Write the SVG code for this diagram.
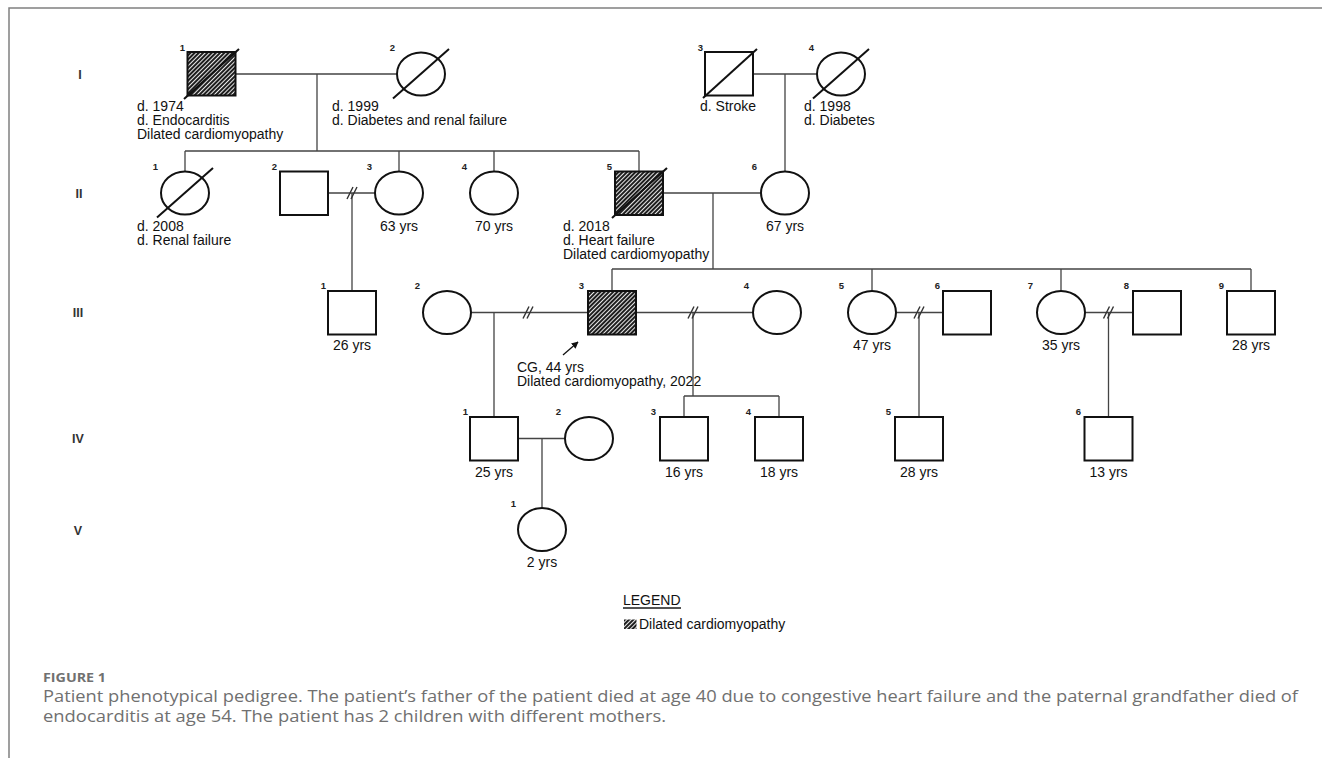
<svg xmlns="http://www.w3.org/2000/svg" width="1331" height="758" viewBox="0 0 1331 758">
<style>
.sym{fill:#fff;stroke:#111;stroke-width:2}
.aff{fill:url(#hatch);stroke:#111;stroke-width:2}
.dec{stroke:#111;stroke-width:2;fill:none}
.ln{stroke:#444;stroke-width:1.3;fill:none}
.t{font-family:"Liberation Sans",Arial,sans-serif;font-size:14px;fill:#111}
.c{text-anchor:middle}
.n{font-family:"Liberation Sans",Arial,sans-serif;font-size:9.5px;font-weight:bold;fill:#222;text-anchor:end}
.g{font-family:"Liberation Sans",Arial,sans-serif;font-size:12.5px;font-weight:bold;fill:#333;text-anchor:middle}
.cap{font-family:"Open Sans","Liberation Sans",sans-serif;fill:#707070}
</style>
<defs>
<pattern id="hatch" width="3" height="3" patternUnits="userSpaceOnUse" patternTransform="rotate(-45)">
<rect width="3" height="3" fill="#fff"/>
<rect width="3" height="2.1" fill="#1e1e1e"/>
</pattern>
<path id="brk" d="M-5,6 L1,-6 M-1,6 L5,-6" stroke="#333" stroke-width="1.4" fill="none"/>
<marker id="arr" viewBox="0 0 10 10" refX="9" refY="5" markerWidth="7" markerHeight="7" orient="auto" markerUnits="userSpaceOnUse">
<path d="M0,0 L10,5 L0,10 z" fill="#111"/>
</marker>
</defs>
<rect width="1331" height="758" fill="#fff"/>
<!-- frame -->
<path d="M9,758 V8 H1322" stroke="#808080" stroke-width="1.5" fill="none"/>

<!-- generation labels -->
<g id="gen-labels">
<text class="g" x="80" y="79">I</text>
<text class="g" x="79" y="198">II</text>
<text class="g" x="78" y="317">III</text>
<text class="g" x="78" y="443">IV</text>
<text class="g" x="78" y="535">V</text>
</g>

<!-- connectors -->
<g id="connectors">
<path class="ln" d="M236,74 H397 M317,74 V151"/>
<path class="ln" d="M753,74 H817 M785,74 V171.5"/>
<path class="ln" d="M185,151 H639 M185,151 V171.5 M399,151 V171.5 M494,151 V171.5 M639,151 V171.5"/>
<path class="ln" d="M663,193 H761 M713,193 V269"/>
<path class="ln" d="M328,193 H375 M352,193 V291"/>
<path class="ln" d="M612,269 H1251 M612,269 V291 M872,269 V291 M1061,269 V291 M1251,269 V291"/>
<path class="ln" d="M471,312.5 H588 M494,312.5 V417"/>
<path class="ln" d="M636,312.5 H753 M693,312.5 V396 M684,396 H779 M684,396 V417 M779,396 V417"/>
<path class="ln" d="M896,312.5 H943 M919,312.5 V417"/>
<path class="ln" d="M1085,312.5 H1133 M1108.5,312.5 V417"/>
<path class="ln" d="M518,438.5 H565 M542,438.5 V508"/>
<use href="#brk" x="352" y="193"/>
<use href="#brk" x="528" y="312.5"/>
<use href="#brk" x="693" y="312.5"/>
<use href="#brk" x="919" y="312.5"/>
<use href="#brk" x="1108.5" y="312.5"/>
<line x1="563" y1="355" x2="578" y2="342" stroke="#111" stroke-width="1.3" marker-end="url(#arr)"/>
</g>

<!-- Generation I -->
<g id="I-1">
<rect class="aff" x="187.5" y="52" width="48" height="43.5"/>
<line class="dec" x1="184" y1="99" x2="239" y2="49"/>
<text class="n" x="185" y="51">1</text>
<text class="t" x="137" y="111">d. 1974</text>
<text class="t" x="137" y="125">d. Endocarditis</text>
<text class="t" x="137" y="139">Dilated cardiomyopathy</text>
</g>
<g id="I-2">
<ellipse class="sym" cx="421" cy="74" rx="24" ry="21.5"/>
<line class="dec" x1="393" y1="98.5" x2="449" y2="49"/>
<text class="n" x="395" y="51">2</text>
<text class="t" x="332" y="111">d. 1999</text>
<text class="t" x="332" y="125">d. Diabetes and renal failure</text>
</g>
<g id="I-3">
<rect class="sym" x="705" y="52" width="48" height="43.5"/>
<line class="dec" x1="703" y1="98" x2="757" y2="49"/>
<text class="n" x="703" y="51">3</text>
<text class="t" x="700" y="111">d. Stroke</text>
</g>
<g id="I-4">
<ellipse class="sym" cx="841" cy="74" rx="24" ry="21.5"/>
<line class="dec" x1="813" y1="98.5" x2="869" y2="49"/>
<text class="n" x="814" y="51">4</text>
<text class="t" x="804" y="111">d. 1998</text>
<text class="t" x="804" y="125">d. Diabetes</text>
</g>

<!-- Generation II -->
<g id="II-1">
<ellipse class="sym" cx="185" cy="193" rx="24" ry="21.5"/>
<line class="dec" x1="157" y1="217.5" x2="213" y2="168"/>
<text class="n" x="158" y="170">1</text>
<text class="t" x="137" y="231">d. 2008</text>
<text class="t" x="137" y="245">d. Renal failure</text>
</g>
<g id="II-2">
<rect class="sym" x="280" y="171.5" width="48" height="43.5"/>
<text class="n" x="277" y="170">2</text>
</g>
<g id="II-3">
<ellipse class="sym" cx="399" cy="193" rx="24" ry="21.5"/>
<text class="n" x="372" y="170">3</text>
<text class="t c" x="399" y="231">63 yrs</text>
</g>
<g id="II-4">
<ellipse class="sym" cx="494" cy="193" rx="24" ry="21.5"/>
<text class="n" x="467" y="170">4</text>
<text class="t c" x="494" y="231">70 yrs</text>
</g>
<g id="II-5">
<rect class="aff" x="615" y="171.5" width="48" height="43.5"/>
<line class="dec" x1="612" y1="218" x2="667" y2="168"/>
<text class="n" x="612" y="170">5</text>
<text class="t" x="563" y="231">d. 2018</text>
<text class="t" x="563" y="245">d. Heart failure</text>
<text class="t" x="563" y="259">Dilated cardiomyopathy</text>
</g>
<g id="II-6">
<ellipse class="sym" cx="785" cy="193" rx="24" ry="21.5"/>
<text class="n" x="757" y="170">6</text>
<text class="t c" x="785" y="231">67 yrs</text>
</g>

<!-- Generation III -->
<g id="III-1">
<rect class="sym" x="328" y="291" width="48" height="43.5"/>
<text class="n" x="326" y="289">1</text>
<text class="t c" x="352" y="350">26 yrs</text>
</g>
<g id="III-2">
<ellipse class="sym" cx="447" cy="312.5" rx="24" ry="21.5"/>
<text class="n" x="420" y="289">2</text>
</g>
<g id="III-3">
<rect class="aff" x="588" y="291" width="48" height="43.5"/>
<text class="n" x="584" y="289">3</text>
<text class="t" x="517" y="372">CG, 44 yrs</text>
<text class="t" x="517" y="386">Dilated cardiomyopathy, 2022</text>
</g>
<g id="III-4">
<ellipse class="sym" cx="777" cy="312.5" rx="24" ry="21.5"/>
<text class="n" x="749" y="289">4</text>
</g>
<g id="III-5">
<ellipse class="sym" cx="872" cy="312.5" rx="24" ry="21.5"/>
<text class="n" x="844" y="289">5</text>
<text class="t c" x="872" y="350">47 yrs</text>
</g>
<g id="III-6">
<rect class="sym" x="943" y="291" width="48" height="43.5"/>
<text class="n" x="940" y="289">6</text>
</g>
<g id="III-7">
<ellipse class="sym" cx="1061" cy="312.5" rx="24" ry="21.5"/>
<text class="n" x="1033" y="289">7</text>
<text class="t c" x="1061" y="350">35 yrs</text>
</g>
<g id="III-8">
<rect class="sym" x="1133" y="291" width="48" height="43.5"/>
<text class="n" x="1129" y="289">8</text>
</g>
<g id="III-9">
<rect class="sym" x="1227" y="291" width="48" height="43.5"/>
<text class="n" x="1224" y="289">9</text>
<text class="t c" x="1251" y="350">28 yrs</text>
</g>

<!-- Generation IV -->
<g id="IV-1">
<rect class="sym" x="470" y="417" width="48" height="43.5"/>
<text class="n" x="468" y="415">1</text>
<text class="t c" x="494" y="477">25 yrs</text>
</g>
<g id="IV-2">
<ellipse class="sym" cx="589" cy="438.5" rx="24" ry="21.5"/>
<text class="n" x="561" y="415">2</text>
</g>
<g id="IV-3">
<rect class="sym" x="660" y="417" width="48" height="43.5"/>
<text class="n" x="656" y="415">3</text>
<text class="t c" x="684" y="477">16 yrs</text>
</g>
<g id="IV-4">
<rect class="sym" x="755" y="417" width="48" height="43.5"/>
<text class="n" x="751" y="415">4</text>
<text class="t c" x="779" y="477">18 yrs</text>
</g>
<g id="IV-5">
<rect class="sym" x="895" y="417" width="48" height="43.5"/>
<text class="n" x="891" y="415">5</text>
<text class="t c" x="919" y="477">28 yrs</text>
</g>
<g id="IV-6">
<rect class="sym" x="1084.5" y="417" width="48" height="43.5"/>
<text class="n" x="1081" y="415">6</text>
<text class="t c" x="1108.5" y="477">13 yrs</text>
</g>

<!-- Generation V -->
<g id="V-1">
<ellipse class="sym" cx="542" cy="529.5" rx="24" ry="21.5"/>
<text class="n" x="516" y="507">1</text>
<text class="t c" x="542" y="567">2 yrs</text>
</g>

<!-- Legend -->
<g id="legend">
<text class="t" x="623" y="605">LEGEND</text>
<line x1="623" y1="608" x2="681" y2="608" stroke="#1a1a1a" stroke-width="1.3"/>
<rect x="624" y="619.5" width="12.5" height="9.5" fill="url(#hatch)"/>
<text class="t" x="639" y="629">Dilated cardiomyopathy</text>
</g>

<!-- Caption -->
<g id="caption">
<text class="cap" x="43" y="682" font-size="12.5" font-weight="bold" fill="#666" textLength="63" lengthAdjust="spacingAndGlyphs">FIGURE 1</text>
<text class="cap" x="43" y="702" font-size="15.5" textLength="1255" lengthAdjust="spacingAndGlyphs">Patient phenotypical pedigree. The patient’s father of the patient died at age 40 due to congestive heart failure and the paternal grandfather died of</text>
<text class="cap" x="43" y="722" font-size="15.5" textLength="623" lengthAdjust="spacingAndGlyphs">endocarditis at age 54. The patient has 2 children with different mothers.</text>
</g>
</svg>
